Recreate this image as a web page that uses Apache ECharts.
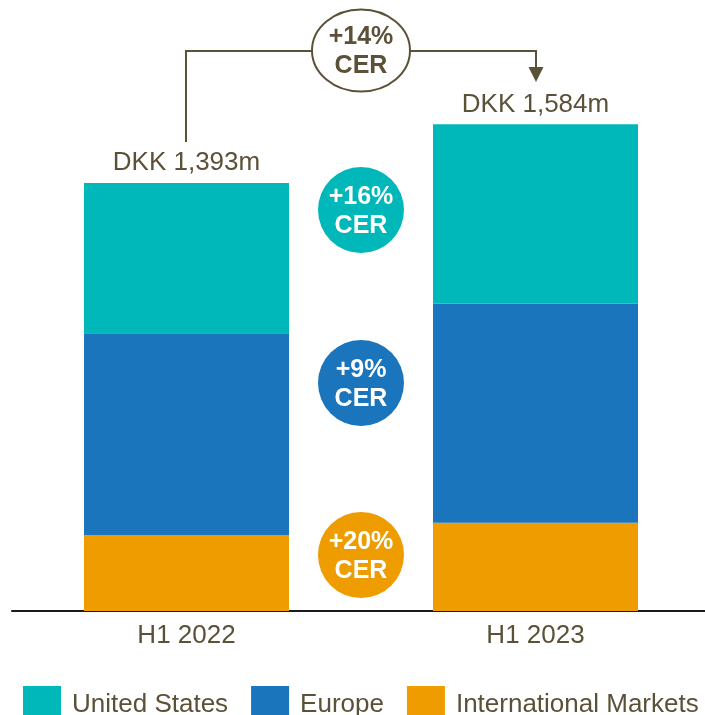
<!DOCTYPE html>
<html>
<head>
<meta charset="utf-8">
<script src="https://cdn.jsdelivr.net/npm/echarts@6/dist/echarts.min.js"></script>
<style>
  html, body { margin: 0; padding: 0; background: #fff; overflow: hidden; }
  #chart { width: 712px; height: 715px; }
</style>
</head>
<body>
<div id="chart"></div>
<script>
const periods = ['H1 2022', 'H1 2023']
const intlMarkets = [247, 287]
const europe = [657, 714]
const unitedStates = [489, 583]
const totals = ['DKK 1,393m', 'DKK 1,584m']
const growthBadges = [
  { text: '+16%\nCER', color: '#00b8b9', y: 210 },
  { text: '+9%\nCER', color: '#1b75bc', y: 383 },
  { text: '+20%\nCER', color: '#ee9c00', y: 555 },
]
const totalGrowth = '+14%\nCER'

const textColor = '#5b5139'
const font = 'Liberation Sans, Arial, sans-serif'

const chart = echarts.init(document.getElementById('chart'))

const badgeGraphics = growthBadges.map((b) => ({
  type: 'group',
  children: [
    { type: 'circle', shape: { cx: 361, cy: b.y, r: 43 }, style: { fill: b.color } },
    {
      type: 'text',
      x: 361,
      y: b.y + 2,
      style: {
        text: b.text,
        fill: '#fff',
        font: 'bold 25px ' + font,
        lineHeight: 29,
        align: 'center',
        verticalAlign: 'middle',
      },
    },
  ],
}))

chart.setOption({
  backgroundColor: '#fff',
  animation: false,
  textStyle: { fontFamily: font },
  grid: { left: 12, width: 698, top: 58, bottom: 104 },
  legend: {
    data: ['United States', 'Europe', 'International Markets'],
    left: 23,
    top: 686,
    padding: 0,
    icon: 'rect',
    itemWidth: 38,
    itemHeight: 38,
    itemGap: 23,
    textStyle: { fontSize: 26, color: textColor, padding: [0, 0, 0, 6] },
  },
  xAxis: {
    type: 'category',
    data: periods,
    axisLine: { lineStyle: { color: '#1a1a1a', width: 2 } },
    axisTick: { show: false },
    axisLabel: { fontSize: 26, color: textColor, margin: 12 },
  },
  yAxis: { type: 'value', min: 0, max: 1800, show: false },
  series: [
    {
      name: 'International Markets',
      type: 'bar',
      stack: 'total',
      barWidth: 205,
      itemStyle: { color: '#ee9c00' },
      data: intlMarkets,
    },
    {
      name: 'Europe',
      type: 'bar',
      stack: 'total',
      itemStyle: { color: '#1b75bc' },
      data: europe,
    },
    {
      name: 'United States',
      type: 'bar',
      stack: 'total',
      itemStyle: { color: '#00b8b9' },
      label: {
        show: true,
        position: 'top',
        distance: 7,
        fontSize: 26,
        color: textColor,
        formatter: (p) => totals[p.dataIndex],
      },
      data: unitedStates,
    },
  ],
  graphic: [
    ...badgeGraphics,
    {
      type: 'polyline',
      shape: { points: [[186, 142], [186, 51], [312, 51]] },
      style: { stroke: textColor, lineWidth: 2, fill: null },
    },
    {
      type: 'polyline',
      shape: { points: [[410, 51], [536, 51], [536, 70]] },
      style: { stroke: textColor, lineWidth: 2, fill: null },
    },
    {
      type: 'polygon',
      shape: { points: [[528.5, 67], [543.5, 67], [536, 82]] },
      style: { fill: textColor },
    },
    {
      type: 'ellipse',
      shape: { cx: 361, cy: 50.5, rx: 49, ry: 41 },
      style: { fill: '#fff', stroke: textColor, lineWidth: 2 },
    },
    {
      type: 'text',
      x: 361,
      y: 52,
      style: {
        text: totalGrowth,
        fill: textColor,
        font: 'bold 25px ' + font,
        lineHeight: 29,
        align: 'center',
        verticalAlign: 'middle',
      },
    },
  ],
})
</script>
</body>
</html>
